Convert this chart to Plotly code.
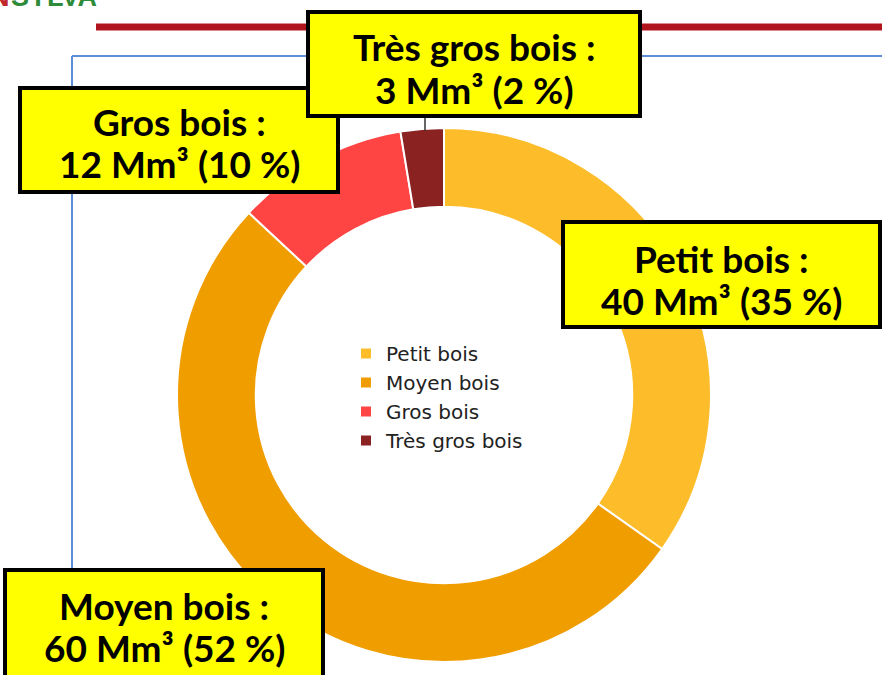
import plotly.graph_objects as go

W, H = 882, 675

categories = ["Petit bois", "Moyen bois", "Gros bois", "Très gros bois"]
volumes = [40, 60, 12, 3]
colors = ["#FDBD2A", "#F09D00", "#FF4444", "#8B2222"]

label_line1 = ["Petit bois :", "Moyen bois :", "Gros bois :", "Très gros bois :"]
label_line2 = ["40 Mm³ (35 %)", "60 Mm³ (52 %)", "12 Mm³ (10 %)", "3 Mm³ (2 %)"]

# label box geometry in pixels: (x0, y0, x1, y1, baseline1, baseline2)
boxes = [
    (563, 222, 880, 327, 270, 312),
    (5, 570, 323, 690, 617, 659),
    (20, 88, 338, 192, 133, 175),
    (308, 12, 640, 116, 58, 101),
]


def px(x):
    return x / W


def py(y):
    return 1 - y / H


cx, cy, R = 444, 395, 267

fig = go.Figure()
fig.add_trace(go.Pie(
    labels=categories,
    values=volumes,
    hole=0.705,
    sort=False,
    direction="clockwise",
    rotation=0,
    textinfo="none",
    hoverinfo="label+value+percent",
    marker=dict(colors=colors, line=dict(color="white", width=2)),
    domain=dict(x=[px(cx - R), px(cx + R)], y=[py(cy + R), py(cy - R)]),
))

shapes = []
# decorative frame lines
shapes.append(dict(type="line", xref="paper", yref="paper",
                   x0=px(96), x1=px(882), y0=py(27), y1=py(27),
                   line=dict(color="#B0141C", width=7)))
shapes.append(dict(type="line", xref="paper", yref="paper",
                   x0=px(72), x1=px(882), y0=py(56), y1=py(56),
                   line=dict(color="#5B8ED6", width=2)))
shapes.append(dict(type="line", xref="paper", yref="paper",
                   x0=px(72), x1=px(72), y0=py(56), y1=py(600),
                   line=dict(color="#5B8ED6", width=2)))
# leader line for Très gros bois
shapes.append(dict(type="line", xref="paper", yref="paper",
                   x0=px(425), x1=px(425), y0=py(116), y1=py(131),
                   line=dict(color="#333333", width=1.5)))

annotations = []
font_family = "Lato"
fs = 37
for (x0, y0, x1, y1, b1, b2), t1, t2 in zip(boxes, label_line1, label_line2):
    shapes.append(dict(type="rect", xref="paper", yref="paper",
                       x0=px(x0), x1=px(x1), y0=py(y1), y1=py(y0),
                       fillcolor="#FFFF00", line=dict(color="black", width=4),
                       layer="above"))
    xc = (x0 + x1) / 2
    for txt, b in ((t1, b1), (t2, b2)):
        annotations.append(dict(
            xref="paper", yref="paper", x=px(xc), y=py(b - 0.30 * fs),
            xanchor="center", yanchor="middle", showarrow=False,
            text="<b>" + txt + "</b>",
            font=dict(family=font_family, size=fs, color="black"),
        ))

# logo fragment at top-left
annotations.append(dict(
    xref="paper", yref="paper", x=px(9), y=py(14), xanchor="left", yanchor="bottom",
    showarrow=False, text="<b>SYLVA</b>",
    font=dict(family="Liberation Sans", size=27, color="#2E8B3A"),
))
annotations.append(dict(
    xref="paper", yref="paper", x=px(-12), y=py(14), xanchor="left", yanchor="bottom",
    showarrow=False, text="<b>N</b>",
    font=dict(family="Liberation Sans", size=27, color="#C0282D"),
))

fig.update_layout(
    width=W, height=H,
    margin=dict(l=0, r=0, t=0, b=0),
    paper_bgcolor="white",
    plot_bgcolor="white",
    shapes=shapes,
    annotations=annotations,
    showlegend=True,
    legend=dict(
        x=px(346), y=py(334), xanchor="left", yanchor="top",
        bgcolor="rgba(0,0,0,0)",
        font=dict(family="DejaVu Sans", size=20, color="#222222"),
        tracegroupgap=0,
    ),
)

fig.write_html("out.html", config={"displayModeBar": False},
               post_script="document.body.style.margin='0px';")
